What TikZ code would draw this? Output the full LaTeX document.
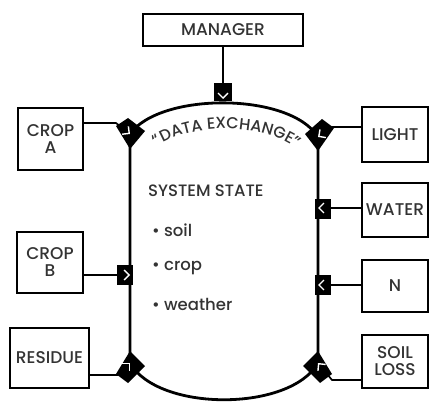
\documentclass[tikz,border=0pt]{standalone}
\usepackage{fontspec}
\setmainfont{Poppins Medium}
\usetikzlibrary{arrows.meta,decorations.text}
\begin{document}
\begin{tikzpicture}[x=1pt,y=-1pt,
  box/.style={draw, line width=1.8pt, inner sep=0pt, align=center, text=black!80,
    font=\fontsize{17}{17}\selectfont},
  conn/.style={line width=1.7pt, -{Straight Barb[length=5pt,width=10pt,color=white,line width=1.4pt]}},
  blob/.style={fill=black},
  lbl/.style={text=black!80, font=\fontsize{16.5}{17}\selectfont, anchor=west, inner sep=0pt}]
\useasboundingbox (0,0) rectangle (429,404);
% boxes
\node[box, minimum width=160pt, minimum height=32pt] (man) at (223,30) {MANAGER};
\node[box, minimum width=65pt, minimum height=62pt] (cropa) at (50.5,139) {CROP\\A};
\node[box, minimum width=66pt, minimum height=61pt] (cropb) at (50,262.5) {CROP\\B};
\node[box, minimum width=79pt, minimum height=60pt] (res) at (49.5,358) {RESIDUE};
\node[box, minimum width=66pt, minimum height=55pt] (light) at (395,134.5) {LIGHT};
\node[box, minimum width=66pt, minimum height=54pt] (water) at (395,210) {WATER};
\node[box, minimum width=66pt, minimum height=52pt] (n) at (395,286) {N};
\node[box, minimum width=66pt, minimum height=53pt] (soil) at (395,361.5) {SOIL\\LOSS};
% junction points
\coordinate (jtop) at (223,99);
\coordinate (jA) at (130,134);
\coordinate (jB) at (130,275);
\coordinate (jR) at (130,363);
\coordinate (jL) at (318,137);
\coordinate (jW) at (318,208);
\coordinate (jN) at (318,285);
\coordinate (jS) at (318,363);
% contour
\draw[line width=2.8pt] (jA) .. controls (160,92) and (290,92) .. (jL) -- (jS)
  .. controls (290,412) and (158,412) .. (jR) -- cycle;
% blobs
\fill[blob] (214,83) rectangle (232,101);
\fill[blob] (116,126) -- (128,118) -- (145,131) -- (130,149) -- cycle;
\fill[blob] (334,128) -- (322,119) -- (305,134) -- (318,151) -- cycle;
\fill[blob] (117,265) rectangle (133,285);
\fill[blob] (315,199) rectangle (331,219);
\fill[blob] (315,275) rectangle (331,295);
\fill[blob] (116,374) -- (128,383) -- (145,366) -- (130,351) -- cycle;
\fill[blob] (332,374) -- (320,383) -- (303,366) -- (318,351) -- cycle;
% connectors
\draw[conn] (man.south) -- (jtop);
\draw[conn] (cropa.east |- 0,123) -- (116,123) -- (jA);
\draw[conn] (cropb.east |- jB) -- (jB);
\draw[conn] (res.east |- 0,375) -- (118,375) -- (jR);
\draw[conn] (light.west |- 0,127) -- (332,127) -- (jL);
\draw[conn] (water.west |- jW) -- (jW);
\draw[conn] (n.west |- jN) -- (jN);
\draw[conn] (soil.west |- 0,380) -- (332,380) -- (jS);
% curved label
\path[decorate, decoration={text along path, text align=center,
   text={|\fontsize{16}{16}\selectfont\color{black!80}|“DATA EXCHANGE”}}]
   (146,157) .. controls (176,119) and (276,119) .. (307,159);
% system state
\node[lbl] (ss) at (148,191) {SYSTEM STATE};
\node[lbl] (s1) at (152,230) {\textbullet\ soil};
\node[lbl] (s2) at (152,268) {\textbullet\ crop};
\node[lbl] (s3) at (152,304) {\textbullet\ weather};
\end{tikzpicture}
\end{document}
